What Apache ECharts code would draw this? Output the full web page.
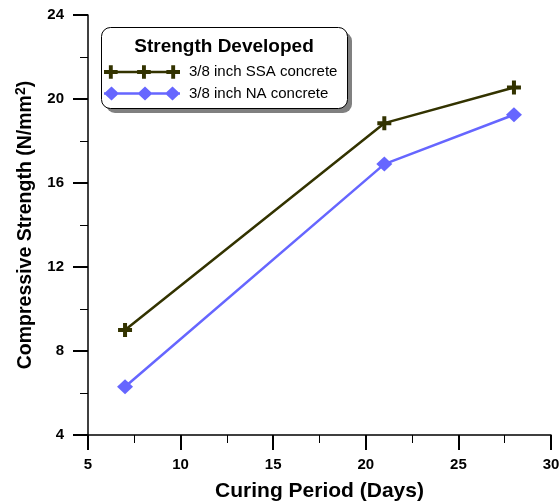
<!DOCTYPE html>
<html>
<head>
<meta charset="utf-8">
<script src="https://cdn.jsdelivr.net/npm/echarts@6/dist/echarts.min.js"></script>
<style>html,body{margin:0;padding:0;background:#fff}#c{width:559px;height:504px}</style>
</head>
<body>
<div id="c"></div>
<script>
const days = [7, 21, 28];
const ssaStrength = [9.0, 18.85, 20.55];
const naStrength = [6.3, 16.9, 19.25];
const seriesNames = ['3/8 inch SSA concrete', '3/8 inch NA concrete'];
const legendTitle = 'Strength Developed';
const xTitle = 'Curing Period (Days)';
const yTitle = 'Compressive Strength (N/mm{s|2})';

const plusPath = 'path://M5,0H9V5H14V9H9V14H5V9H0V5H5Z';
function crossAt(cx){const x=cx-7;return `M${x+5},0H${x+9}V5H${x+14}V9H${x+9}V14H${x+5}V9H${x}V5H${x+5}Z`;}
function diamondAt(cx){return `M${cx},0L${cx+7.5},7L${cx},14L${cx-7.5},7Z`;}
const ssaIcon = 'path://M0,5.8H76V8.2H0Z' + crossAt(7) + crossAt(41) + crossAt(71);
const naIcon = 'path://M0,5.8H76V8.2H0Z' + diamondAt(7.5) + diamondAt(41) + diamondAt(68.5);

const font = '"Liberation Sans", Arial, sans-serif';
const chart = echarts.init(document.getElementById('c'));
chart.setOption({
  animation: false,
  grid: {left: 88, right: 8, top: 15, bottom: 69, containLabel: false, outerBoundsMode: 'none'},
  xAxis: {
    type: 'value', min: 5, max: 30, interval: 5,
    name: xTitle, nameLocation: 'middle', nameGap: 46,
    nameTextStyle: {fontFamily: font, fontWeight: 'bold', fontSize: 21, color: '#000'},
    axisLine: {show: true, onZero: false, lineStyle: {color: '#000', width: 1.5}},
    axisTick: {show: true, inside: false, length: 15, lineStyle: {color: '#000', width: 2}},
    minorTick: {show: true, splitNumber: 2, length: 8, lineStyle: {color: '#000', width: 1}},
    splitLine: {show: false},
    axisLabel: {margin: 22, fontFamily: font, fontWeight: 'bold', fontSize: 15, color: '#000', hideOverlap: false}
  },
  yAxis: {
    type: 'value', min: 4, max: 24, interval: 4,
    name: yTitle, nameLocation: 'middle', nameGap: 51,
    nameTextStyle: {fontFamily: font, fontWeight: 'bold', fontSize: 19.5, color: '#000',
      rich: {s: {fontFamily: font, fontWeight: 'bold', fontSize: 14, color: '#000', padding: [0, 0, 9, 0]}}},
    axisLine: {show: true, onZero: false, lineStyle: {color: '#000', width: 1.5}},
    axisTick: {show: true, inside: false, length: 15, lineStyle: {color: '#000', width: 2}},
    minorTick: {show: true, splitNumber: 2, length: 8, lineStyle: {color: '#000', width: 1}},
    splitLine: {show: false},
    axisLabel: {margin: 24, fontFamily: font, fontWeight: 'bold', fontSize: 15, color: '#000', hideOverlap: false}
  },
  graphic: [
    {type: 'rect', z: 90, shape: {x: 106, y: 32, width: 246, height: 81, r: 9}, style: {fill: '#808080'}, silent: true},
    {type: 'rect', z: 91, shape: {x: 101.5, y: 27.5, width: 246, height: 81, r: 9}, style: {fill: '#fff', stroke: '#000', lineWidth: 1}, silent: true},
    {type: 'text', z: 92, x: 224, y: 47, style: {text: legendTitle, fontFamily: font, fontWeight: 'bold', fontSize: 19, fill: '#000', align: 'center', verticalAlign: 'middle'}, silent: true}
  ],
  legend: {
    z: 95, orient: 'vertical', left: 104, top: 64.5, padding: 0, itemGap: 6.5,
    itemWidth: 76, itemHeight: 14, selectedMode: false,
    itemStyle: {borderWidth: 0},
    textStyle: {fontFamily: font, fontSize: 15, color: '#000', padding: [0, 0, 0, 4]},
    data: [
      {name: seriesNames[0], icon: ssaIcon, itemStyle: {color: '#333300', borderWidth: 0}},
      {name: seriesNames[1], icon: naIcon, itemStyle: {color: '#6666ff', borderWidth: 0}}
    ]
  },
  series: [
    {name: seriesNames[0], type: 'line', data: days.map((d, i) => [d, ssaStrength[i]]),
      symbol: plusPath, symbolSize: 14, color: '#333300',
      lineStyle: {color: '#333300', width: 2.5}, itemStyle: {color: '#333300', borderWidth: 0}},
    {name: seriesNames[1], type: 'line', data: days.map((d, i) => [d, naStrength[i]]),
      symbol: 'diamond', symbolSize: [16, 15], color: '#6666ff',
      lineStyle: {color: '#6666ff', width: 2.5}, itemStyle: {color: '#6666ff', borderWidth: 0}}
  ]
});
</script>
</body>
</html>
